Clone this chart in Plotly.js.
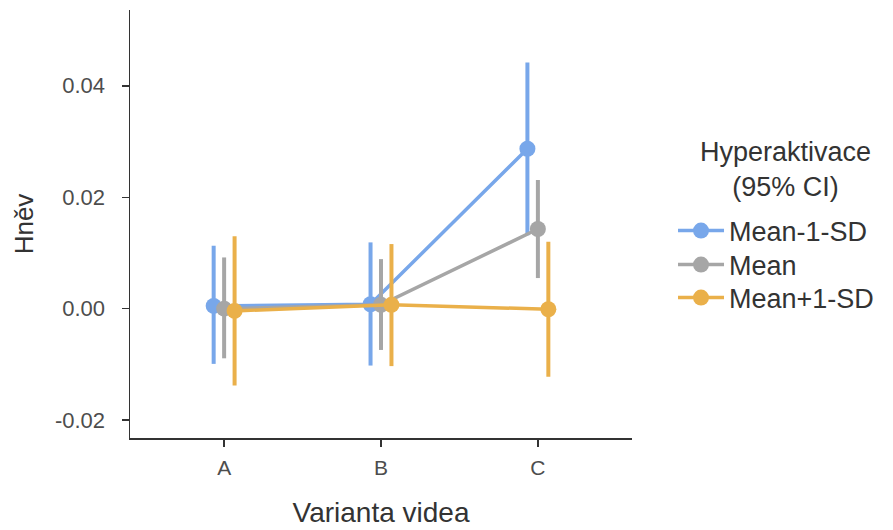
<!DOCTYPE html>
<html>
<head>
<meta charset="utf-8">
<script src="https://cdn.plot.ly/plotly-3.0.1.min.js"></script>
<style>html,body{margin:0;padding:0;background:#fff}#chart{width:893px;height:530px}</style>
</head>
<body>
<div id="chart"></div>
<script>
const categories = ['A', 'B', 'C'];
const seriesNames = ['Mean-1-SD', 'Mean', 'Mean+1-SD'];
const legendTitle = 'Hyperaktivace<br>(95% CI)';
const meanLow = [0.0005, 0.0008, 0.0287];
const lowerLow = [-0.0099, -0.0102, 0.0132];
const upperLow = [0.0113, 0.0119, 0.0442];
const meanMid = [0.0000, 0.0007, 0.0143];
const lowerMid = [-0.0089, -0.0074, 0.0055];
const upperMid = [0.0092, 0.0089, 0.0231];
const meanHigh = [-0.0004, 0.0007, -0.0001];
const lowerHigh = [-0.0138, -0.0103, -0.0122];
const upperHigh = [0.0130, 0.0116, 0.0120];

const colors = ['#78A7EA', '#A6A6A6', '#EAB04A'];
const means = [meanLow, meanMid, meanHigh];
const lowers = [lowerLow, lowerMid, lowerHigh];
const uppers = [upperLow, upperMid, upperHigh];
const dodge = [-0.0667, 0, 0.0667];
const legendIds = ['legend', 'legend2', 'legend3'];
const legendY = [0.4836, 0.4042, 0.3271];

const traces = seriesNames.map((name, s) => {
  const x = categories.map((c, i) => i + 1 + dodge[s]);
  return {
    type: 'scatter', mode: 'lines+markers', name: name,
    legend: legendIds[s],
    x: x, y: means[s],
    line: {color: colors[s], width: 3.5},
    marker: {color: colors[s], size: 16},
    error_y: {
      type: 'data', symmetric: false,
      array: means[s].map((m, i) => uppers[s][i] - m),
      arrayminus: means[s].map((m, i) => m - lowers[s][i]),
      color: colors[s], thickness: 4, width: 0
    }
  };
});

const font = 'Liberation Sans, Arial, sans-serif';
const layout = {
  width: 893, height: 530,
  margin: {l: 130, r: 261, t: 10, b: 92},
  paper_bgcolor: '#fff', plot_bgcolor: '#fff',
  font: {family: font, color: '#4D4D4D'},
  showlegend: true,
  xaxis: {
    range: [0.4, 3.6], tickvals: [1, 2, 3], ticktext: categories,
    showgrid: false, zeroline: false, showline: true, linecolor: '#333', linewidth: 1.5,
    ticks: 'outside', ticklen: 7, tickcolor: '#333', tickwidth: 1.5,
    ticklabelstandoff: 3,
    tickfont: {size: 21, color: '#4D4D4D', family: font},
    title: {text: 'Varianta videa', font: {size: 28, color: '#333', family: font}, standoff: 24}
  },
  yaxis: {
    range: [-0.0232, 0.0536], tickvals: [-0.02, 0, 0.02, 0.04],
    ticktext: ['-0.02', '0.00', '0.02', '0.04'],
    showgrid: false, zeroline: false, showline: true, linecolor: '#333', linewidth: 1.5,
    ticks: 'outside', ticklen: 7, tickcolor: '#333', tickwidth: 1.5,
    ticklabelstandoff: 12,
    tickfont: {size: 22, color: '#4D4D4D', family: font},
    title: {text: 'Hněv', font: {size: 26, color: '#333', family: font}, standoff: 14}
  },
  annotations: [{
    text: legendTitle, xref: 'paper', yref: 'paper', x: 1.305, y: 0.6285,
    xanchor: 'center', yanchor: 'middle', align: 'center', showarrow: false,
    font: {size: 27, color: '#333', family: font}
  }]
};
legendIds.forEach((id, s) => {
  layout[id] = {
    x: 1.0817, xanchor: 'left', y: legendY[s], yanchor: 'middle',
    font: {size: 27, color: '#333', family: font},
    itemwidth: 46, bgcolor: 'rgba(0,0,0,0)'
  };
});

Plotly.newPlot('chart', traces, layout, {displayModeBar: false, staticPlot: true});
</script>
</body>
</html>
